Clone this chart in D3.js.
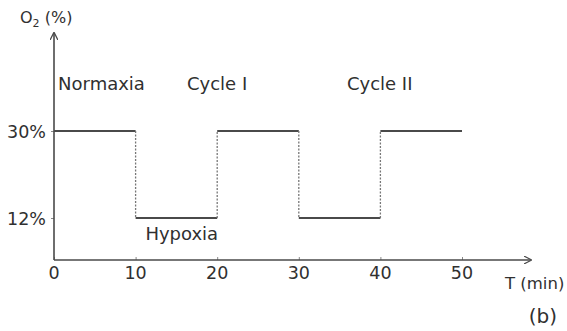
<!DOCTYPE html>
<html>
<head>
<meta charset="utf-8">
<script src="https://cdn.jsdelivr.net/npm/d3@7"></script>
<style>
    body { margin: 0; background: #fff; }
    text { font-family: "DejaVu Sans", sans-serif; fill: #303030; }
</style>
</head>
<body>
<div id="chart"></div>
<script>
// O2 level over time, step profile
const times    = [0, 10, 20, 30, 40, 50]
const levels   = [30, 12, 30, 12, 30]       // level held in each 10 min phase
const xTicks   = [0, 10, 20, 30, 40, 50]
const yTicks   = [12, 30]
const phaseLabels = [
    { text : "Normaxia", t : 0.5,  v : 38.4 },
    { text : "Cycle I",  t : 16.3, v : 38.4 },
    { text : "Cycle II", t : 35.9, v : 38.4 },
    { text : "Hypoxia",  t : 11.2, v : 7.4 },
]

const W = 567, H = 331
const margin = { left : 54, top : 33, bottom : 71 }
const axisY = H - margin.bottom

const svg = d3.select("#chart").append("svg")
    .attr("width", W)
    .attr("height", H)

const xScale = d3.scaleLinear()
    .domain([0, 50])
    .range([margin.left, 462])

const yScale = d3.scaleLinear()
    .domain([12, 30])
    .range([218, 131])

const lineColor = "#4a4a4a"

svg.append("defs").append("marker")
    .attr("id", "arrow")
    .attr("viewBox", "0 0 10 10")
    .attr("refX", 9).attr("refY", 5)
    .attr("markerWidth", 8).attr("markerHeight", 8)
    .attr("markerUnits", "userSpaceOnUse")
    .attr("orient", "auto")
    .append("path")
    .attr("d", "M0,0 L10,5 L0,10")
    .attr("fill", "none")
    .attr("stroke", lineColor)
    .attr("stroke-width", 1.6)

//x axis with arrow
const xAxis = svg.append("g")
    .attr("transform", `translate(0,${axisY})`)
    .call(d3.axisTop(xScale).tickValues(xTicks).tickSize(3).tickFormat(""))
xAxis.select(".domain").remove()
xAxis.selectAll(".tick line").attr("stroke", "#888")
svg.append("line")
    .attr("x1", margin.left).attr("x2", 531)
    .attr("y1", axisY).attr("y2", axisY)
    .attr("stroke", lineColor).attr("stroke-width", 1.6)
    .attr("marker-end", "url(#arrow)")

svg.selectAll(".xlab")
    .data(xTicks)
    .enter()
    .append("text")
    .attr("class", "xlab")
    .attr("x", (d) => xScale(d))
    .attr("y", axisY + 19)
    .attr("text-anchor", "middle")
    .attr("font-size", 17.5)
    .text((d) => d)

//y axis with arrow
const yAxis = svg.append("g")
    .attr("transform", `translate(${margin.left},0)`)
    .call(d3.axisLeft(yScale).tickValues(yTicks).tickSize(3).tickFormat(""))
yAxis.select(".domain").remove()
yAxis.selectAll(".tick line").attr("stroke", "#888")
svg.append("line")
    .attr("x1", margin.left).attr("x2", margin.left)
    .attr("y1", axisY).attr("y2", margin.top)
    .attr("stroke", lineColor).attr("stroke-width", 1.6)
    .attr("marker-end", "url(#arrow)")

svg.selectAll(".ylab")
    .data(yTicks)
    .enter()
    .append("text")
    .attr("class", "ylab")
    .attr("x", margin.left - 8)
    .attr("y", (d) => yScale(d) + 6.5)
    .attr("text-anchor", "end")
    .attr("font-size", 17.5)
    .text((d) => d + "%")

//axis titles
const yTitle = svg.append("text")
    .attr("x", 20)
    .attr("y", 23)
    .attr("font-size", 16)
yTitle.append("tspan").text("O")
yTitle.append("tspan").attr("font-size", 11).attr("dy", 4).text("2")
yTitle.append("tspan").attr("dy", -4).text(" (%)")

svg.append("text")
    .attr("x", 505)
    .attr("y", 289)
    .attr("font-size", 16.5)
    .text("T (min)")

svg.append("text")
    .attr("x", 557)
    .attr("y", 323)
    .attr("text-anchor", "end")
    .attr("font-family", "'Liberation Serif', serif")
    .attr("font-size", 20)
    .text("(b)")

//horizontal steps
const steps = levels.map((v, i) => ({ t0 : times[i], t1 : times[i + 1], v : v }))
svg.selectAll(".step")
    .data(steps)
    .enter()
    .append("line")
    .attr("class", "step")
    .attr("x1", (d) => xScale(d.t0))
    .attr("x2", (d) => xScale(d.t1))
    .attr("y1", (d) => yScale(d.v))
    .attr("y2", (d) => yScale(d.v))
    .attr("stroke", lineColor)
    .attr("stroke-width", 2)

//dotted transitions
const jumps = levels.slice(1).map((v, i) => ({ t : times[i + 1], a : levels[i], b : v }))
svg.selectAll(".jump")
    .data(jumps)
    .enter()
    .append("line")
    .attr("class", "jump")
    .attr("x1", (d) => xScale(d.t))
    .attr("x2", (d) => xScale(d.t))
    .attr("y1", (d) => yScale(d.a))
    .attr("y2", (d) => yScale(d.b))
    .attr("stroke", "#777")
    .attr("stroke-width", 1.3)
    .attr("stroke-dasharray", "2,1.5")

//phase labels
svg.selectAll(".phase")
    .data(phaseLabels)
    .enter()
    .append("text")
    .attr("class", "phase")
    .attr("x", (d) => xScale(d.t))
    .attr("y", (d) => yScale(d.v))
    .attr("font-size", 18)
    .text((d) => d.text)
</script>
</body>
</html>
